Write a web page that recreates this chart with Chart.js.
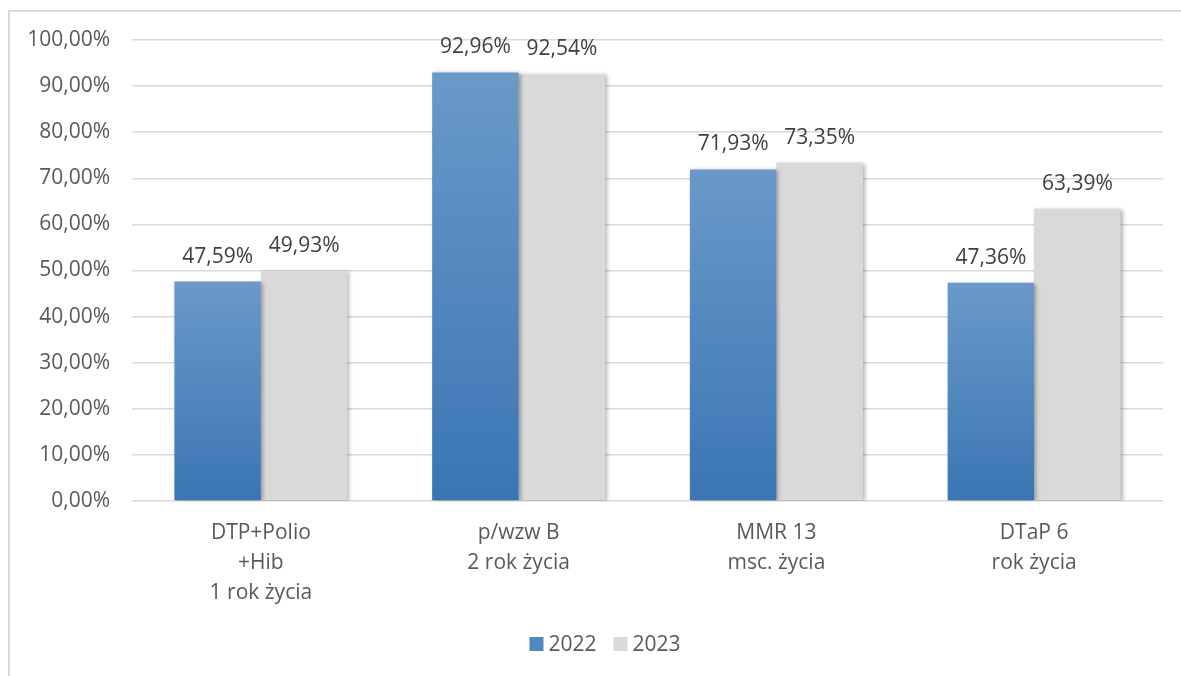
<!DOCTYPE html>
<html>
<head>
<meta charset="utf-8">
<script src="https://cdn.jsdelivr.net/npm/chart.js@4"></script>
<style>
  html, body { margin: 0; padding: 0; background: #fff; }
  #wrap { width: 1181px; height: 676px; }
</style>
</head>
<body>
<div id="wrap"><canvas id="chart"></canvas></div>
<script>
const categories = [
  ['DTP+Polio', '+Hib', '1 rok życia'],
  ['p/wzw B', '2 rok życia'],
  ['MMR 13', 'msc. życia'],
  ['DTaP 6', 'rok życia'],
];
const years = ['2022', '2023'];
const values2022 = [47.59, 92.96, 71.93, 47.36];
const values2023 = [49.93, 92.54, 73.35, 63.39];

const FONT = 'Open Sans';
const TEXT = '#595959';
const legendFills = ['rgb(80,136,192)', '#d9d9d9'];
const fmt = v => v.toFixed(2).replace('.', ',') + '%';

function blueGradient(c) {
  const chart = c.chart;
  if (!chart.chartArea || c.raw == null) return '#4f81bd';
  const y = chart.scales.y;
  const top = y.getPixelForValue(c.raw);
  const bottom = y.getPixelForValue(0);
  const g = chart.ctx.createLinearGradient(0, top, 0, bottom);
  g.addColorStop(0, 'rgb(106,153,201)');
  g.addColorStop(1, 'rgb(58,118,180)');
  return g;
}

const frame = {
  id: 'frame',
  beforeDraw(chart) {
    const ctx = chart.ctx;
    ctx.save();
    ctx.strokeStyle = '#d9d9d9';
    ctx.lineWidth = 2;
    ctx.strokeRect(9, 11, 1300, 800);
    ctx.restore();
  }
};

const shadow = {
  id: 'shadow',
  beforeDatasetDraw(chart) {
    const ctx = chart.ctx;
    ctx.save();
    ctx.shadowColor = 'rgba(0,0,0,0.3)';
    ctx.shadowBlur = 4;
    ctx.shadowOffsetX = 2;
    ctx.shadowOffsetY = 1;
  },
  afterDatasetDraw(chart) {
    chart.ctx.restore();
  }
};

const valueLabels = {
  id: 'valueLabels',
  afterDatasetsDraw(chart) {
    const ctx = chart.ctx;
    ctx.save();
    ctx.font = '21px "' + FONT + '"';
    ctx.fillStyle = '#404040';
    ctx.textAlign = 'center';
    ctx.textBaseline = 'middle';
    chart.data.datasets.forEach((ds, i) => {
      chart.getDatasetMeta(i).data.forEach((bar, j) => {
        ctx.fillText(fmt(ds.data[j]), bar.x, bar.y - 25);
      });
    });
    ctx.restore();
  }
};

// legend with a tighter box/text gap than the built-in one
const legendRow = {
  id: 'legendRow',
  afterDraw(chart) {
    const ctx = chart.ctx;
    ctx.save();
    ctx.font = '21px "' + FONT + '"';
    ctx.textBaseline = 'middle';
    const y = 644;
    const widths = years.map(t => ctx.measureText(t).width);
    const box = 14, gap = 5, spacing = 17;
    const total = widths.reduce((a, w) => a + box + gap + w, 0) + spacing * (years.length - 1);
    let x = 605 - total / 2;
    years.forEach((t, i) => {
      ctx.fillStyle = legendFills[i];
      ctx.fillRect(x, y - box / 2, box, box);
      x += box + gap;
      ctx.fillStyle = TEXT;
      ctx.fillText(t, x, y + 1);
      x += widths[i] + spacing;
    });
    ctx.restore();
  }
};

new Chart(document.getElementById('chart'), {
  type: 'bar',
  data: {
    labels: categories,
    datasets: [
      {
        label: years[0],
        data: values2022,
        backgroundColor: blueGradient,
        categoryPercentage: 0.671,
        barPercentage: 1,
      },
      {
        label: years[1],
        data: values2023,
        backgroundColor: '#d9d9d9',
        categoryPercentage: 0.671,
        barPercentage: 1,
      },
    ],
  },
  options: {
    responsive: true,
    maintainAspectRatio: false,
    animation: false,
    layout: { padding: { top: 40, right: 18, left: 0, bottom: 56 } },
    plugins: {
      tooltip: { enabled: false },
      legend: { display: false },
    },
    scales: {
      x: {
        grid: { display: false, drawTicks: false },
        border: { display: false },
        ticks: {
          color: TEXT,
          padding: 17,
          font: { family: FONT, size: 21, lineHeight: 1.42 },
          maxRotation: 0,
          autoSkip: false,
        },
        afterFit(scale) { scale.height = 119; },
      },
      y: {
        min: 0,
        max: 100,
        grid: { color: '#d9d9d9', lineWidth: 1.5, drawTicks: false },
        border: { display: false },
        ticks: {
          stepSize: 10,
          color: TEXT,
          padding: 22,
          font: { family: FONT, size: 21 },
          callback: v => fmt(v),
        },
        afterFit(scale) { scale.width = 132; },
      },
    },
  },
  plugins: [frame, shadow, valueLabels, legendRow],
});
</script>
</body>
</html>
